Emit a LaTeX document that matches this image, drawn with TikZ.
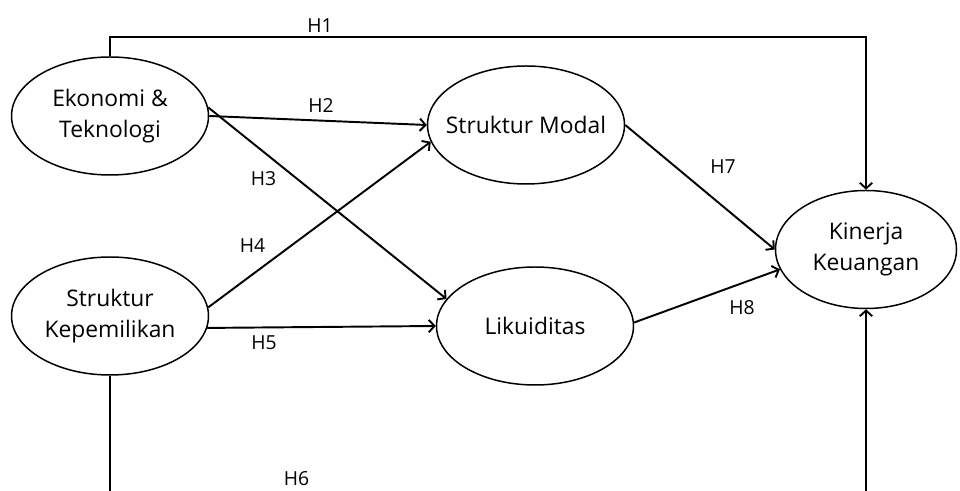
\documentclass[tikz,border=0pt]{standalone}
\usepackage{fontspec}
\setmainfont{Open Sans}
\usetikzlibrary{shapes.geometric,arrows.meta}
\begin{document}
\begin{tikzpicture}[
  var/.style={ellipse, draw, line width=0.85pt, minimum width=3.94cm, minimum height=2.36cm,
    inner xsep=-0.5cm, inner ysep=0pt, align=center, font=\fontsize{13}{18}\selectfont},
  hyp/.style={font=\fontsize{11}{13}\selectfont, inner sep=0pt},
  >={Straight Barb[length=3.2pt,width=7pt]},
  line width=1.1pt]
\clip (0,0) rectangle (19.2,9.82);
% variabel
\node[var] (eko) at (2.2,7.5) {Ekonomi \&\\Teknologi};
\node[var] (kep) at (2.2,3.5) {Struktur\\Kepemilikan};
\node[var] (modal) at (10.52,7.32) {Struktur Modal};
\node[var] (lik) at (10.7,3.3) {Likuiditas};
\node[var, minimum width=3.62cm] (kin) at (17.32,4.83) {Kinerja\\Keuangan};
% jalur atas dan bawah
\coordinate (atas) at (10,9.08);
\coordinate (bawah) at (10,-0.5);
\draw[->] (eko.north) |- (atas) -| (kin.north);
\draw[->] (kep.south) |- (bawah) -| (kin.south);
% panah hipotesis
\draw[->] (eko.east) -- (modal.west);
\draw[->] (eko.5) -- (lik.163);
\draw[->] (kep.5) -- (modal.190);
\draw[->] (kep.-7) -- (lik.west);
\draw[->] (modal.east) -- (kin.west);
\draw[->] (lik.2) -- (kin.193);
% label
\node[hyp] (h1) at (6.4,9.3) {H1};
\node[hyp] (h2) at (6.42,7.7) {H2};
\node[hyp] (h3) at (5.27,6.24) {H3};
\node[hyp] (h4) at (5.05,4.9) {H4};
\node[hyp] (h5) at (5.28,2.96) {H5};
\node[hyp] (h6) at (5.93,0.24) {H6};
\node[hyp] (h7) at (14.46,6.48) {H7};
\node[hyp] (h8) at (14.84,3.66) {H8};
\end{tikzpicture}
\end{document}
